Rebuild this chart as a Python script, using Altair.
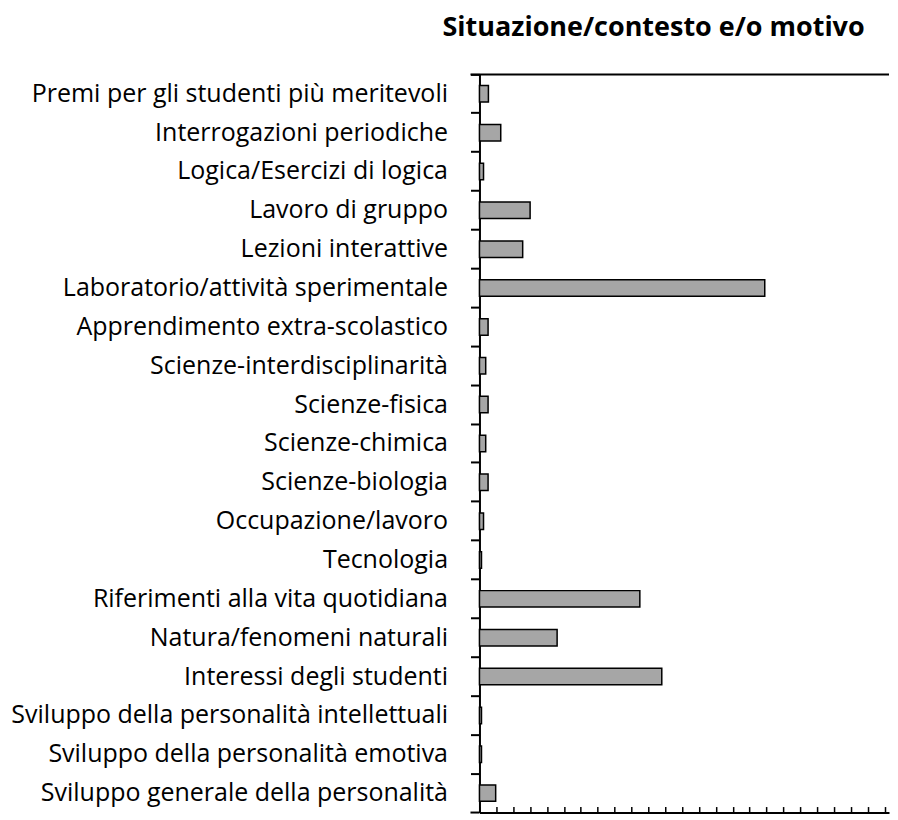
import altair as alt
import pandas as pd

categories = [
    "Premi per gli studenti più meritevoli",
    "Interrogazioni periodiche",
    "Logica/Esercizi di logica",
    "Lavoro di gruppo",
    "Lezioni interattive",
    "Laboratorio/attività sperimentale",
    "Apprendimento extra-scolastico",
    "Scienze-interdisciplinarità",
    "Scienze-fisica",
    "Scienze-chimica",
    "Scienze-biologia",
    "Occupazione/lavoro",
    "Tecnologia",
    "Riferimenti alla vita quotidiana",
    "Natura/fenomeni naturali",
    "Interessi degli studenti",
    "Sviluppo della personalità intellettuali",
    "Sviluppo della personalità emotiva",
    "Sviluppo generale della personalità",
]
values = [0.53, 1.26, 0.24, 3.0, 2.56, 16.9, 0.51, 0.37, 0.51, 0.37, 0.51,
          0.24, 0.12, 9.5, 4.6, 10.8, 0.12, 0.12, 0.96]
x_ticks = list(range(0, 25))
title_text = "Situazione/contesto e/o motivo"

W = 410
H = 739
PX_PER_UNIT = 16.9

df = pd.DataFrame({"categoria": categories, "valore": values})

bars = alt.Chart(df).mark_bar(
    height=16.5, color="#A6A6A6", stroke="black", strokeWidth=1.5
).encode(
    y=alt.Y(
        "categoria:N",
        sort=categories,
        scale=alt.Scale(paddingInner=0, paddingOuter=0),
        axis=alt.Axis(
            title=None, bandPosition=0, tickSize=9, tickWidth=2,
            tickColor="black", domainColor="black", domainWidth=2,
            labelFont="Open Sans", labelFontSize=25, labelColor="black",
            labelPadding=23, labelLimit=0, grid=False,
        ),
    ),
    x=alt.X(
        "valore:Q",
        scale=alt.Scale(domain=[0, W / PX_PER_UNIT], nice=False, zero=True),
        axis=alt.Axis(
            title=None, orient="top", offset=-H, values=x_ticks,
            labels=False, tickSize=6, tickWidth=1.5, tickColor="black",
            domainColor="black", domainWidth=2, grid=False,
        ),
    ),
)

line_df = pd.DataFrame({"k": [0]})
top_line = alt.Chart(line_df).mark_rule(color="black", strokeWidth=2).encode(
    x=alt.value(-9), x2=alt.value(W), y=alt.value(0)
)
bottom_tick = alt.Chart(line_df).mark_rule(color="black", strokeWidth=2).encode(
    x=alt.value(-9), x2=alt.value(0), y=alt.value(H)
)

chart = alt.layer(bars, top_line, bottom_tick).properties(
    width=W,
    height=H,
    padding={"left": 2, "top": 6, "right": 0, "bottom": 0},
    title=alt.TitleParams(
        title_text, anchor="start", frame="group", dx=-37, offset=31,
        font="Open Sans", fontSize=27, fontWeight="bold", color="black",
    ),
).configure_view(stroke=None)

chart.save("out.html", embed_options={"renderer": "svg", "actions": False})
